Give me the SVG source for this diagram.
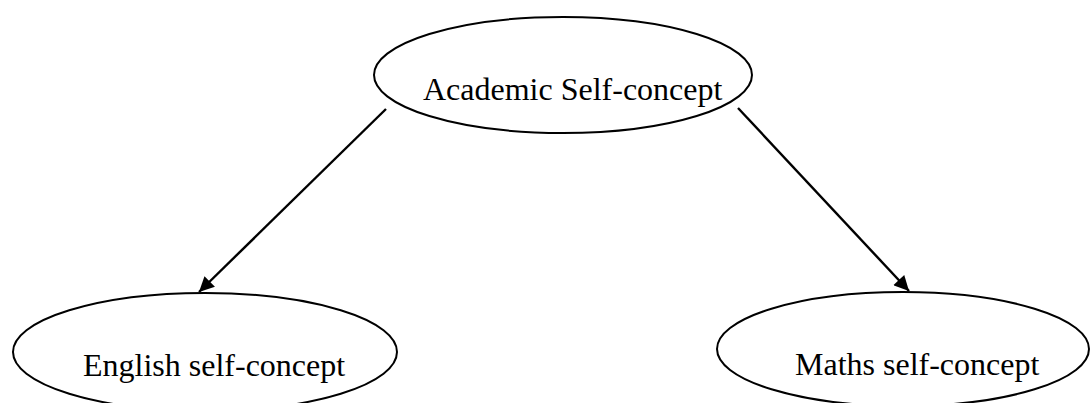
<svg xmlns="http://www.w3.org/2000/svg" width="1091" height="403" viewBox="0 0 1091 403">
<style>
.node{fill:#fff;stroke:#000;stroke-width:2}
.lbl{font-family:"Liberation Serif","Times New Roman",serif;font-size:32px;fill:#000}
.edge{stroke:#000;stroke-width:2.4;fill:none;marker-end:url(#ah)}
</style>
<defs>
<marker id="ah" viewBox="0 0 10 10" refX="10" refY="5" markerUnits="userSpaceOnUse" markerWidth="20" markerHeight="15" orient="auto">
<path d="M0,0 L10,5 L0,10 z" fill="#000"/>
</marker>
</defs>
<rect width="1091" height="403" fill="#fff"/>
<g id="academic">
<ellipse class="node" cx="563" cy="75" rx="189" ry="58"/>
<text class="lbl" x="423" y="100">Academic Self-concept</text>
</g>
<g id="english">
<ellipse class="node" cx="205" cy="352" rx="192" ry="59"/>
<text class="lbl" x="83" y="376">English self-concept</text>
</g>
<g id="maths">
<ellipse class="node" cx="903" cy="349" rx="186" ry="57"/>
<text class="lbl" x="795" y="375">Maths self-concept</text>
</g>
<g id="connectors">
<line class="edge" x1="386" y1="109" x2="199" y2="292"/>
<line class="edge" x1="738" y1="108" x2="909" y2="291"/>
</g>
</svg>
